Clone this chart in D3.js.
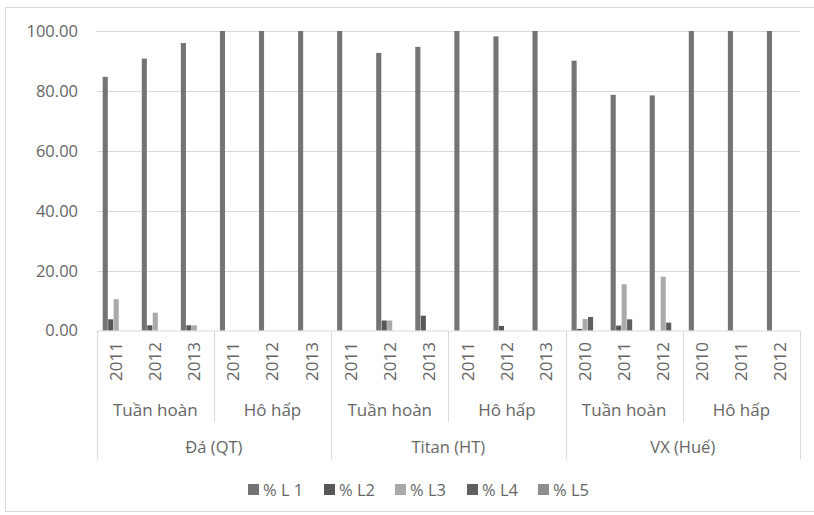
<!DOCTYPE html>
<html><head><meta charset="utf-8">
<script src="https://cdn.jsdelivr.net/npm/d3@7/dist/d3.min.js"></script>
<style>body{margin:0;background:#fff}svg{display:block}text{font-family:"Open Sans",sans-serif;fill:#666}</style>
</head><body><svg id="c" width="814" height="515"></svg>
<script>
const groups = ["Đá (QT)", "Titan (HT)", "VX (Huế)"];
const subgroups = ["Tuần hoàn", "Hô hấp"];
const yearsByGroup = [["2011","2012","2013"],["2011","2012","2013"],["2010","2011","2012"]];
const seriesNames = ["% L 1", "% L2", "% L3", "% L4", "% L5"];
const L1 = [84.7, 90.8, 96.0, 100, 100, 100, 100, 92.7, 94.7, 100, 98.2, 100, 90.1, 78.7, 78.5, 100, 100, 100];
const L2 = [3.8, 1.8, 1.8, 0, 0, 0, 0, 3.4, 5.0, 0, 1.6, 0, 0.6, 1.7, 0, 0, 0, 0];
const L3 = [10.5, 6.0, 1.8, 0, 0, 0, 0, 3.4, 0, 0, 0, 0, 3.9, 15.5, 18.0, 0, 0, 0];
const L4 = [0, 0, 0, 0, 0, 0, 0, 0, 0, 0, 0, 0, 4.6, 3.8, 2.7, 0, 0, 0];
const L5 = [0, 0, 0, 0, 0, 0, 0, 0, 0, 0, 0, 0, 0, 0, 0, 0, 0, 0];
const yTicks = [0, 20, 40, 60, 80, 100];
const colors = ["#747474", "#575757", "#aaaaaa", "#5f5f5f", "#8e8e8e"];

const series = [L1, L2, L3, L4, L5];
const cats = [];
groups.forEach((g, gi) => subgroups.forEach((s, si) => yearsByGroup[gi].forEach(y => cats.push({g, gi, s, si, y}))));

const svg = d3.select("#c");
svg.append("rect").attr("x", 5.5).attr("y", 7.5).attr("width", 820).attr("height", 504)
  .attr("fill", "#fff").attr("stroke", "#d9d9d9").attr("stroke-width", 1);

const x0 = 96.7, x1 = 800;
const x = d3.scaleBand().domain(d3.range(cats.length)).range([x0, x1]).padding(0);
const xs = d3.scaleBand().domain(d3.range(series.length)).range([6, 33]).paddingInner(0.07);
const y = d3.scaleLinear().domain([0, 100]).range([330.7, 31]);

// gridlines
svg.append("g").selectAll("line").data(yTicks.filter(t => t > 0)).join("line")
  .attr("x1", x0).attr("x2", x1).attr("y1", d => Math.round(y(d)) + 0.5).attr("y2", d => Math.round(y(d)) + 0.5)
  .attr("stroke", "#d9d9d9");

// y axis labels
const yAxis = d3.axisLeft(y).tickValues(yTicks).tickFormat(d3.format(".2f")).tickSize(0).tickPadding(0);
const ya = svg.append("g").attr("transform", "translate(78,0)").call(yAxis);
ya.select(".domain").remove();
ya.selectAll("text").attr("font-size", 16.5).attr("fill", "#666").attr("font-family", "Open Sans");

// bars
series.forEach((vals, si) => {
  svg.append("g").selectAll("rect").data(vals).join("rect")
    .attr("x", (d, i) => x(i) + xs(si))
    .attr("width", xs.bandwidth())
    .attr("y", d => y(d))
    .attr("height", d => y(0) - y(d))
    .attr("fill", colors[si]);
});

// baseline
svg.append("line").attr("x1", x0).attr("x2", x1).attr("y1", 331).attr("y2", 331).attr("stroke", "#d9d9d9");

// category axis separators
const sepSub = [], sepGrp = [];
for (let i = 0; i <= cats.length; i += 3) {
  if (i % 6 === 0) sepGrp.push(i); else sepSub.push(i);
}
const xb = i => (i === cats.length ? x1 : x(i));
svg.append("g").selectAll("line").data(sepGrp).join("line")
  .attr("x1", d => Math.round(xb(d)) + 0.5).attr("x2", d => Math.round(xb(d)) + 0.5)
  .attr("y1", 331).attr("y2", 459).attr("stroke", "#d9d9d9");
svg.append("g").selectAll("line").data(sepSub).join("line")
  .attr("x1", d => Math.round(xb(d)) + 0.5).attr("x2", d => Math.round(xb(d)) + 0.5)
  .attr("y1", 331).attr("y2", 422).attr("stroke", "#d9d9d9");

// year labels
svg.append("g").selectAll("text").data(cats).join("text")
  .attr("transform", (d, i) => `translate(${x(i) + x.bandwidth() / 2},342) rotate(-90)`)
  .attr("text-anchor", "end").attr("dy", "0.35em").attr("font-size", 17).text(d => d.y);

// subgroup labels
const subs = d3.range(6);
svg.append("g").selectAll("text").data(subs).join("text")
  .attr("x", d => (xb(d * 3) + xb(d * 3 + 3)) / 2).attr("y", 410).attr("dy", "0.35em")
  .attr("text-anchor", "middle").attr("font-size", 17).text(d => subgroups[d % 2]);

// group labels
svg.append("g").selectAll("text").data(groups).join("text")
  .attr("x", (d, i) => (xb(i * 6) + xb(i * 6 + 6)) / 2).attr("y", 447).attr("dy", "0.35em")
  .attr("text-anchor", "middle").attr("font-size", 16.5).text(d => d);

// legend
const legX = [248, 324, 395, 467, 538];
const lg = svg.append("g").selectAll("g").data(seriesNames).join("g")
  .attr("transform", (d, i) => `translate(${legX[i]},490)`);
lg.append("rect").attr("x", 0).attr("y", -6).attr("width", 11).attr("height", 11).attr("fill", (d, i) => colors[i]);
lg.append("text").attr("x", 15).attr("dy", "0.35em").attr("font-size", 16.5).text(d => d);
</script></body></html>
